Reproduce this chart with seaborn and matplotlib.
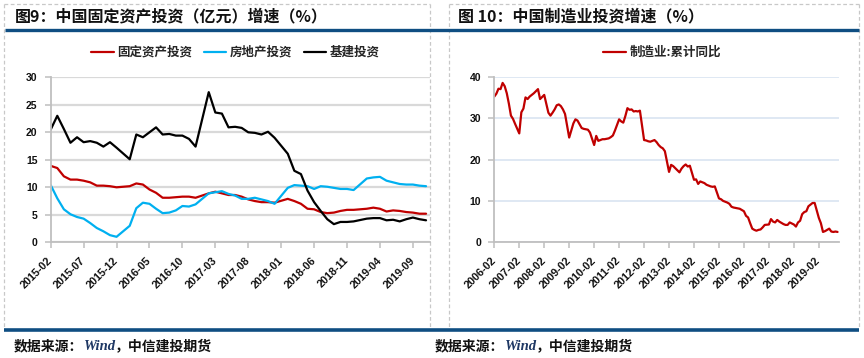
import numpy as np
import pandas as pd
import matplotlib
matplotlib.use("Agg")
import matplotlib.pyplot as plt
import seaborn as sns

# ---------------- data ----------------
left_months = [f"{y}-{m:02d}" for y in range(2015, 2020) for m in range(1, 13)][1:59]
left_ticks = ["2015-02", "2015-07", "2015-12", "2016-05", "2016-10", "2017-03",
              "2017-08", "2018-01", "2018-06", "2018-11", "2019-04", "2019-09"]

fai = [13.9, 13.5, 12.0, 11.4, 11.4, 11.2, 10.9, 10.3, 10.3, 10.2, 10.0,
       None, 10.2, 10.7, 10.5, 9.6, 9.0, 8.1, 8.1, 8.2, 8.3, 8.3, 8.1,
       None, 8.9, 9.2, 8.9, 8.6, 8.6, 8.3, 7.8, 7.5, 7.3, 7.3, 7.2,
       None, 7.9, 7.5, 7.0, 6.1, 6.0, 5.5, 5.3, 5.4, 5.7, 5.9, 5.9,
       None, 6.1, 6.3, 6.1, 5.6, 5.8, 5.7, 5.5, 5.4, 5.2, 5.2]
realestate = [10.4, 8.0, 6.0, 5.1, 4.6, 4.3, 3.5, 2.6, 2.0, 1.3, 1.0,
              None, 3.0, 6.2, 7.2, 7.0, 6.1, 5.3, 5.4, 5.8, 6.6, 6.5, 6.9,
              None, 8.9, 9.1, 9.3, 8.8, 8.5, 7.9, 7.9, 8.1, 7.8, 7.5, 7.0,
              None, 9.9, 10.4, 10.3, 10.2, 9.7, 10.2, 10.1, 9.9, 9.7, 9.7, 9.5,
              None, 11.6, 11.8, 11.9, 11.2, 10.9, 10.6, 10.5, 10.5, 10.3, 10.2]
infra = [20.5, 23.0, 20.6, 18.1, 19.1, 18.2, 18.4, 18.1, 17.4, 18.2, 17.2,
         None, 15.1, 19.6, 19.1, 20.0, 20.9, 19.6, 19.7, 19.4, 19.4, 18.8, 17.4,
         None, 27.3, 23.6, 23.4, 20.9, 21.0, 20.8, 20.0, 19.9, 19.6, 20.1, 19.0,
         None, 16.1, 13.0, 12.4, 9.4, 7.3, 5.7, 4.2, 3.3, 3.7, 3.7, 3.8,
         None, 4.3, 4.4, 4.4, 4.0, 4.1, 3.8, 4.2, 4.5, 4.2, 4.0]

mfg_months = [f"{y}-{m:02d}" for y in range(2006, 2020) for m in range(2, 13)][:-1]
right_ticks = [f"{y}-02" for y in range(2006, 2020)]
mfg_2006 = [35.2, 35.9, 37.1, 37.0, 38.5, 37.7, 36.0, 33.5, 30.6, 29.8, 28.6]
mfg_2007 = [26.3, 31.4, 32.3, 35.0, 34.6, 35.2, 35.6, 36.0, 36.5, 37.0, 34.6]
mfg_2008 = [35.6, 33.4, 31.3, 30.6, 31.3, 32.1, 33.1, 33.3, 32.9, 32.1, 31.0]
mfg_2009 = [25.3, 27.0, 28.7, 29.7, 29.4, 28.5, 27.6, 27.4, 27.3, 27.2, 26.5]
mfg_2010 = [23.5, 25.7, 24.5, 24.7, 24.9, 24.9, 25.0, 25.1, 25.4, 25.8, 27.0]
mfg_2011 = [29.7, 29.2, 28.9, 30.5, 32.4, 32.0, 32.1, 31.6, 31.7, 31.6, 31.8]
mfg_2012 = [24.7, 24.6, 24.4, 24.3, 24.5, 24.7, 24.2, 23.5, 23.0, 22.7, 22.0]
mfg_2013 = [17.0, 18.7, 18.4, 17.9, 17.4, 16.9, 17.8, 18.4, 18.8, 18.3, 18.5]
mfg_2014 = [15.1, 15.2, 14.1, 14.7, 14.5, 14.3, 13.9, 13.7, 13.5, 13.4, 13.5]
mfg_2015 = [10.6, 10.4, 10.0, 9.8, 9.6, 9.3, 8.6, 8.4, 8.3, 8.2, 8.1]
mfg_2016 = [7.5, 6.4, 6.0, 4.6, 3.3, 3.0, 2.8, 3.0, 3.1, 3.6, 4.2]
mfg_2017 = [4.3, 5.6, 5.0, 4.8, 5.4, 5.0, 4.7, 4.4, 4.2, 4.2, 4.8]
mfg_2018 = [4.3, 3.8, 4.8, 5.2, 6.8, 7.3, 7.5, 8.7, 9.1, 9.5, 9.5]
mfg_2019 = [5.9, 4.6, 2.5, 2.7, 3.0, 3.3, 2.6, 2.5, 2.6, 2.5]
mfg = (mfg_2006 + mfg_2007 + mfg_2008 + mfg_2009 + mfg_2010 + mfg_2011 + mfg_2012
       + mfg_2013 + mfg_2014 + mfg_2015 + mfg_2016 + mfg_2017 + mfg_2018 + mfg_2019)

title_left = "图9：中国固定资产投资（亿元）增速（%）"
title_right = "图 10：中国制造业投资增速（%）"
legend_left = ["固定资产投资", "房地产投资", "基建投资"]
legend_right = "制造业:累计同比"

# ---------------- helpers ----------------
def month_pos(label, start):
    y, m = map(int, label.split("-"))
    sy, sm = map(int, start.split("-"))
    return (y - sy) * 12 + (m - sm)

left_df = pd.DataFrame({
    "pos": [month_pos(s, "2015-02") for s in left_months],
    "fai": pd.Series(fai, dtype="float"),
    "re": pd.Series(realestate, dtype="float"),
    "infra": pd.Series(infra, dtype="float"),
})
right_df = pd.DataFrame({
    "pos": [month_pos(s, "2006-02") for s in mfg_months],
    "mfg": mfg,
})

# ---------------- figure ----------------
sns.set_theme(style="white")
plt.rcParams["font.family"] = ["Liberation Sans", "Noto Sans CJK SC", "DejaVu Sans"]
CJK = ["Noto Sans CJK SC", "DejaVu Sans"]

W, H = 864, 358
fig = plt.figure(figsize=(W / 100, H / 100), dpi=100, facecolor="white")

# background decoration layer in pixel coordinates
bg = fig.add_axes([0, 0, 1, 1], zorder=-5)
bg.set_xlim(0, W)
bg.set_ylim(H, 0)
bg.axis("off")
dash_kw = dict(color="#C8C8C8", lw=0.9, ls=(0, (3, 2)))
for x0, x1 in [(4, 430), (449, 859)]:
    bg.plot([x0, x1], [3.5, 3.5], **dash_kw)
    bg.plot([x0, x0], [3.5, 329], **dash_kw)
    bg.plot([x1, x1], [3.5, 329], **dash_kw)
bg.plot([5, 859], [29.5, 29.5], color="#0F4E82", lw=2.4, solid_capstyle="butt")
bg.plot([4, 859], [329.5, 329.5], color="#0F4E82", lw=2.6, solid_capstyle="butt")

bg.text(15, 16.5, title_left, fontsize=11.5, fontweight="bold", family=CJK,
        ha="left", va="center", color="#111111")
bg.text(458, 16.5, title_right, fontsize=11.5, fontweight="bold", family=CJK,
        ha="left", va="center", color="#111111")

for off in (0, 421):
    bg.text(14 + off, 346, "数据来源：", fontsize=10, fontweight="bold", family=CJK,
            ha="left", va="center", color="#111111")
    bg.text(84 + off, 346, "Wind", fontsize=10.5, fontweight="bold", style="italic",
            family=["Liberation Serif"], ha="left", va="center", color="#1F3864")
    bg.text(115 + off, 346, "，中信建投期货", fontsize=10, fontweight="bold", family=CJK,
            ha="left", va="center", color="#111111")

# ---------------- left chart ----------------
axL = fig.add_axes([50.7 / W, (H - 242.3) / H, (430 - 50.7) / W, (242.3 - 77.3) / H])
lw = 1.6
sns.lineplot(data=left_df, x="pos", y="fai", ax=axL, color="#C00000", lw=lw,
             label=legend_left[0], estimator=None)
sns.lineplot(data=left_df, x="pos", y="re", ax=axL, color="#00B0F0", lw=lw,
             label=legend_left[1], estimator=None)
sns.lineplot(data=left_df, x="pos", y="infra", ax=axL, color="#000000", lw=lw,
             label=legend_left[2], estimator=None)
axL.set_xlim(0, 57.6)
axL.set_ylim(0, 30)
axL.set_yticks(range(0, 31, 5), labels=[str(v) for v in range(0, 31, 5)],
               fontweight="bold", fontsize=7.5)
lt_pos = [month_pos(s, "2015-02") for s in left_ticks]
axL.set_xticks(lt_pos, labels=left_ticks, rotation=45, ha="right", va="center",
               rotation_mode="anchor", fontweight="bold", fontsize=7.8)
axL.yaxis.grid(True, color="#D9D9D9", lw=1.6)
axL.set_axisbelow(True)
axL.legend(loc="center", bbox_to_anchor=(235.5 / W, 1 - 52.5 / H),
           bbox_transform=fig.transFigure, ncol=3, frameon=False,
           prop={"family": CJK, "weight": "bold", "size": 9},
           handlelength=1.8, handletextpad=0.3, columnspacing=0.9)

# ---------------- right chart ----------------
axR = fig.add_axes([494.3 / W, (H - 242.3) / H, (839 - 494.3) / W, (242.3 - 76.7) / H])
sns.lineplot(data=right_df, x="pos", y="mfg", ax=axR, color="#C00000", lw=lw,
             label=legend_right, estimator=None)
axR.set_xlim(0, 165.7)
axR.set_ylim(0, 40)
axR.set_yticks(range(0, 41, 10), labels=[str(v) for v in range(0, 41, 10)],
               fontweight="bold", fontsize=7.5)
rt_pos = [month_pos(s, "2006-02") for s in right_ticks]
axR.set_xticks(rt_pos, labels=right_ticks, rotation=45, ha="right", va="center",
               rotation_mode="anchor", fontweight="bold", fontsize=7.8)
axR.yaxis.grid(True, color="#DCE6F2", lw=1.3)
axR.set_axisbelow(True)
axR.legend(loc="center", bbox_to_anchor=(662 / W, 1 - 52.5 / H),
           bbox_transform=fig.transFigure, ncol=1, frameon=False,
           prop={"family": CJK, "weight": "bold", "size": 9},
           handlelength=1.8, handletextpad=0.3)

for ax in (axL, axR):
    ax.set_xlabel("")
    ax.set_ylabel("")
    ax.set_facecolor("none")
    for s in ("top", "right"):
        ax.spines[s].set_visible(False)
    for s in ("left", "bottom"):
        ax.spines[s].set_color("#BFBFBF")
        ax.spines[s].set_linewidth(1.3)
    ax.tick_params(axis="both", which="major", bottom=True, left=True,
                   direction="out", length=4, width=1.1, color="#BFBFBF",
                   labelcolor="#111111")
    ax.tick_params(axis="x", pad=8)
    ax.tick_params(axis="y", pad=5.5)

fig.savefig("out.png", dpi=100, facecolor="white")
